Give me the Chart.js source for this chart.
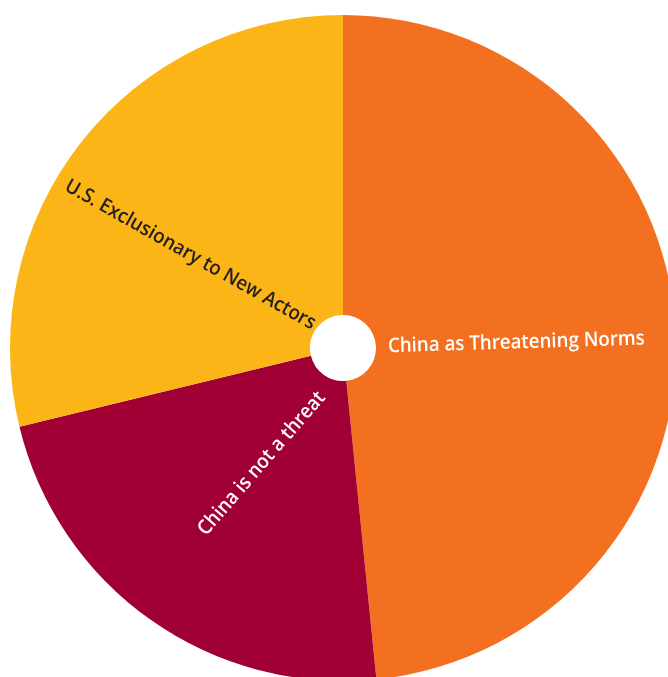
<!DOCTYPE html>
<html>
<head>
<meta charset="utf-8">
<script src="https://cdn.jsdelivr.net/npm/chart.js@4/dist/chart.umd.min.js"></script>
<style>
  html, body { margin: 0; padding: 0; background: #ffffff; overflow: hidden; width: 668px; height: 677px; }
  #wrap { position: absolute; left: 0; top: 0; width: 686px; height: 696px; }
</style>
</head>
<body>
<div id="wrap"><canvas id="c" width="686" height="696"></canvas></div>
<script>
// ---- data ----
const categories = ["China as Threatening Norms", "China is not a threat", "U.S. Exclusionary to New Actors"];
const shares = [48.4, 22.8, 28.8];
const sliceColors = ["#F37021", "#A10034", "#FBB517"];
const labelColors = ["#FFFFFF", "#FFFFFF", "#231F20"];

// label layout (polar anchor from the pie centre, text rotation, which end is anchored)
const labelLayout = [
  { angle: 88, dist: 45, rot: -1.7, align: "left" },
  { angle: 204.5, dist: 51, rot: -49, align: "right" },
  { angle: 308.7, dist: 37, rot: 29.5, align: "right" }
];
const labelFont = "600 20px 'Open Sans'";
const condense = 0.935;

const sliceLabels = {
  id: "sliceLabels",
  afterDatasetsDraw(chart) {
    const ctx = chart.ctx;
    const meta = chart.getDatasetMeta(0);
    meta.data.forEach((arc, i) => {
      const L = labelLayout[i];
      const t = L.angle * Math.PI / 180;
      const x = arc.x + L.dist * Math.sin(t);
      const y = arc.y - L.dist * Math.cos(t);
      ctx.save();
      ctx.translate(x, y);
      ctx.rotate(L.rot * Math.PI / 180);
      ctx.scale(condense, 1);
      ctx.font = labelFont;
      ctx.fillStyle = labelColors[i];
      ctx.textAlign = L.align;
      ctx.textBaseline = "middle";
      ctx.fillText(chart.data.labels[i], 0, 0);
      ctx.restore();
    });
  }
};

new Chart(document.getElementById("c"), {
  type: "doughnut",
  data: {
    labels: categories,
    datasets: [{
      data: shares,
      backgroundColor: sliceColors,
      borderWidth: 0,
      hoverOffset: 0
    }]
  },
  options: {
    responsive: false,
    animation: false,
    devicePixelRatio: 1,
    radius: 333,
    cutout: 34,
    rotation: 0,
    layout: { padding: 0 },
    events: [],
    plugins: {
      legend: { display: false },
      tooltip: { enabled: false }
    }
  },
  plugins: [sliceLabels]
});
</script>
</body>
</html>
